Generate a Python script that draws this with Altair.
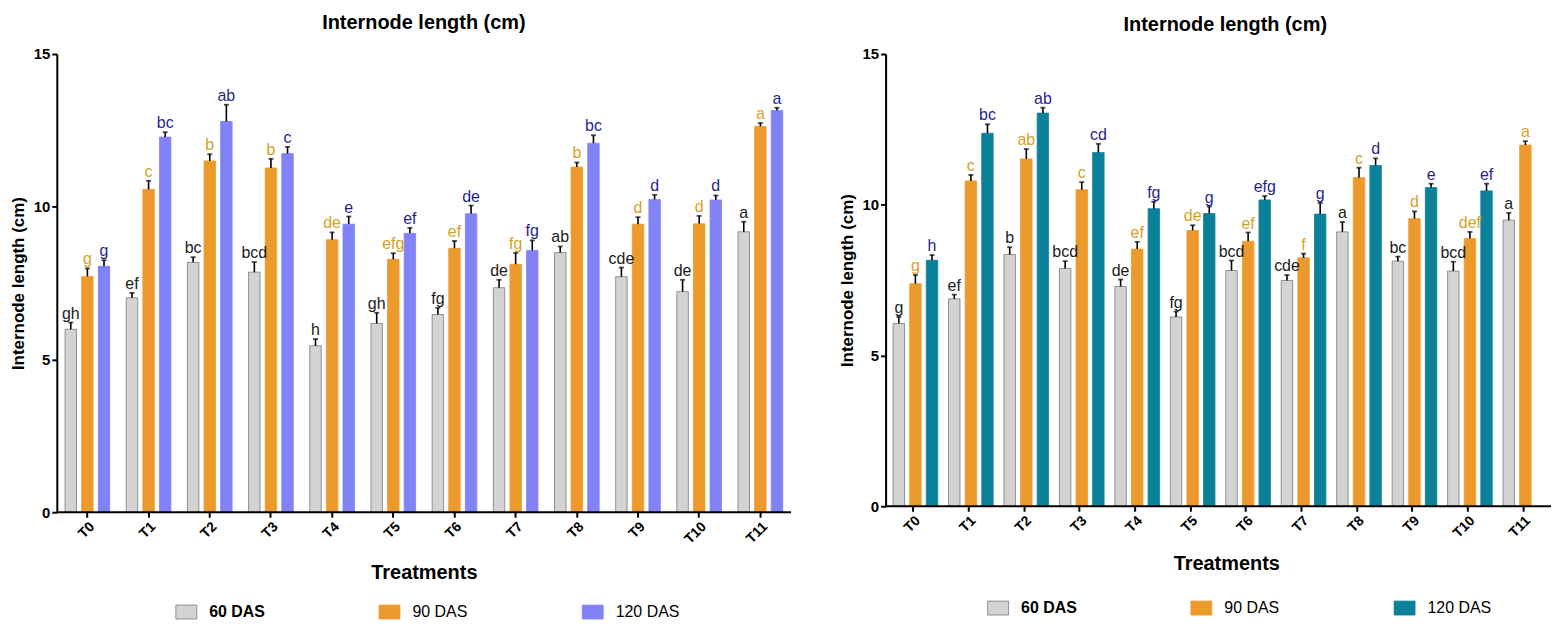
import altair as alt
import pandas as pd

treatments = ["T0", "T1", "T2", "T3", "T4", "T5", "T6", "T7", "T8", "T9", "T10", "T11"]
series = ["60 DAS", "90 DAS", "120 DAS"]

# ---- left panel ----
left_60 = [5.99, 7.02, 8.18, 7.86, 5.45, 6.18, 6.47, 7.35, 8.50, 7.71, 7.22, 9.18]
left_60_err = [0.22, 0.16, 0.17, 0.33, 0.22, 0.35, 0.22, 0.26, 0.20, 0.30, 0.39, 0.33]
left_60_let = ["gh", "ef", "bc", "bcd", "h", "gh", "fg", "de", "ab", "cde", "de", "a"]
left_90 = [7.72, 10.57, 11.50, 11.27, 8.92, 8.28, 8.64, 8.12, 11.30, 9.43, 9.44, 12.63]
left_90_err = [0.26, 0.28, 0.22, 0.30, 0.24, 0.20, 0.24, 0.37, 0.15, 0.23, 0.26, 0.11]
left_90_let = ["g", "c", "b", "b", "de", "efg", "ef", "fg", "b", "d", "d", "a"]
left_120 = [8.05, 12.28, 12.79, 11.74, 9.43, 9.13, 9.77, 8.57, 12.08, 10.24, 10.22, 13.15]
left_120_err = [0.20, 0.16, 0.55, 0.22, 0.25, 0.18, 0.27, 0.33, 0.26, 0.15, 0.15, 0.09]
left_120_let = ["g", "bc", "ab", "c", "e", "ef", "de", "fg", "bc", "d", "d", "a"]

# ---- right panel (T11 at 120 DAS is cut off by the picture's edge) ----
right_60 = [6.06, 6.88, 8.35, 7.89, 7.29, 6.28, 7.82, 7.49, 9.10, 8.13, 7.80, 9.49]
right_60_err = [0.22, 0.14, 0.24, 0.24, 0.23, 0.18, 0.33, 0.18, 0.33, 0.15, 0.31, 0.24]
right_60_let = ["g", "ef", "b", "bcd", "de", "fg", "bcd", "cde", "a", "bc", "bcd", "a"]
right_90 = [7.38, 10.79, 11.52, 10.50, 8.53, 9.15, 8.79, 8.24, 10.90, 9.54, 8.88, 11.98]
right_90_err = [0.29, 0.20, 0.33, 0.25, 0.24, 0.17, 0.29, 0.14, 0.33, 0.24, 0.22, 0.13]
right_90_let = ["g", "c", "ab", "c", "ef", "de", "ef", "f", "c", "d", "def", "a"]
right_120 = [8.16, 12.37, 13.04, 11.73, 9.87, 9.71, 10.16, 9.69, 11.30, 10.57, 10.46, None]
right_120_err = [0.17, 0.30, 0.18, 0.29, 0.23, 0.23, 0.13, 0.37, 0.24, 0.13, 0.24, None]
right_120_let = ["h", "bc", "ab", "cd", "fg", "g", "efg", "g", "d", "e", "ef", None]

text_colors = ["#1a1a1a", "#D6A024", "#1F1F8F"]
y_ticks = [0, 5, 10, 15]


def make_df(vals, errs, lets):
    rows = []
    for s, v_list, e_list, l_list in zip(series, vals, errs, lets):
        for t, v, e, l in zip(treatments, v_list, e_list, l_list):
            if v is None:
                continue
            rows.append({"treatment": t, "series": s, "value": v, "top": v + e, "letter": l})
    return pd.DataFrame(rows)


def panel(df, fills, strokes, width, height, title_dx, title_offset,
          lx, ly, lpad, lfont, xtitle_pad, xtitle_x):
    xaxis_kw = dict(domain=False, labelAngle=-45, labelFontSize=14, labelFontWeight="bold",
                    labelColor="black", tickColor="black", tickWidth=2, tickSize=5,
                    titleFontSize=20, titleFontWeight="bold", titleColor="black",
                    titlePadding=xtitle_pad)
    if xtitle_x is not None:
        xaxis_kw["titleX"] = xtitle_x
    x = alt.X("treatment:N", sort=treatments,
              scale=alt.Scale(domain=treatments, paddingInner=0.27, paddingOuter=0.135),
              axis=alt.Axis(**xaxis_kw), title="Treatments")
    xo = alt.XOffset("series:N", sort=series,
                     scale=alt.Scale(domain=series, paddingInner=0.31))
    yscale = alt.Scale(domain=[0, 15], nice=False)
    y = alt.Y("value:Q", scale=yscale,
              axis=alt.Axis(values=y_ticks, grid=False, domainColor="black", domainWidth=2,
                            tickColor="black", tickWidth=2, tickSize=5,
                            labelFontSize=15, labelFontWeight="bold", labelColor="black",
                            titleFontSize=17, titleFontWeight="bold", titleColor="black",
                            titlePadding=6),
              title="Internode length (cm)")
    leg = alt.Legend(orient="none", legendX=lx, legendY=ly, direction="horizontal",
                     columns=3, gridAlign="all",
                     title=None, symbolType="M-1.5,-1H1.5V1H-1.5Z", symbolSize=196,
                     symbolStrokeWidth=0.8, labelFontSize=lfont, labelOffset=15,
                     labelColor="black", columnPadding=lpad,
                     labelFontWeight=alt.ExprRef("datum.label == '60 DAS' ? 'bold' : 'normal'"))
    base = alt.Chart(df)
    bars = base.mark_bar(strokeWidth=0.8).encode(
        x=x, xOffset=xo, y=y,
        color=alt.Color("series:N", sort=series, scale=alt.Scale(domain=series, range=fills),
                        legend=leg, title=None),
        stroke=alt.Stroke("series:N", sort=series, scale=alt.Scale(domain=series, range=strokes),
                          legend=leg, title=None),
    )
    err = base.mark_rule(color="black", strokeWidth=1.6).encode(
        x=x, xOffset=xo, y="value:Q", y2="top:Q")
    cap = base.mark_tick(color="black", thickness=1.8, size=5).encode(
        x=x, xOffset=xo, y=alt.Y("top:Q"))
    txt = base.mark_text(baseline="bottom", dy=-1, fontSize=16).encode(
        x=x, xOffset=xo, y=alt.Y("top:Q"), text="letter:N",
        fill=alt.Fill("series:N", sort=series,
                      scale=alt.Scale(domain=series, range=text_colors), legend=None))
    baseline = alt.Chart(pd.DataFrame({"zero": [0]})).mark_rule(
        color="black", strokeWidth=2).encode(y=alt.Y("zero:Q", scale=yscale))
    return alt.layer(bars, err, cap, txt, baseline).properties(
        width=width, height=height,
        title=alt.TitleParams("Internode length (cm)", fontSize=20, fontWeight="bold",
                              color="black", anchor="middle", offset=title_offset, dx=title_dx),
    )


left_df = make_df([left_60, left_90, left_120],
                  [left_60_err, left_90_err, left_120_err],
                  [left_60_let, left_90_let, left_120_let])
right_df = make_df([right_60, right_90, right_120],
                   [right_60_err, right_90_err, right_120_err],
                   [right_60_let, right_90_let, right_120_let])

left = panel(left_df, ["#D3D3D3", "#EC9A2C", "#8282F7"], ["#7a7a7a", "#EC9A2C", "#8282F7"],
             737, 460, 0, 14, 122, 552, 103, 16, 17, None)
right = panel(right_df, ["#D3D3D3", "#EC9A2C", "#0B8199"], ["#7a7a7a", "#EC9A2C", "#0B8199"],
              668, 454, 7, 12, 105, 548, 103, 16, 14, 342)

chart = alt.hconcat(left, right, spacing=46).resolve_scale(
    color="independent", stroke="independent", fill="independent"
).resolve_legend(
    color="independent", stroke="independent", fill="independent"
).properties(
    padding={"left": 1, "top": 4, "right": 0, "bottom": 0}
).configure(font="Liberation Sans").configure_view(stroke=None)

chart.save("out.html", embed_options={"renderer": "svg", "actions": False})
